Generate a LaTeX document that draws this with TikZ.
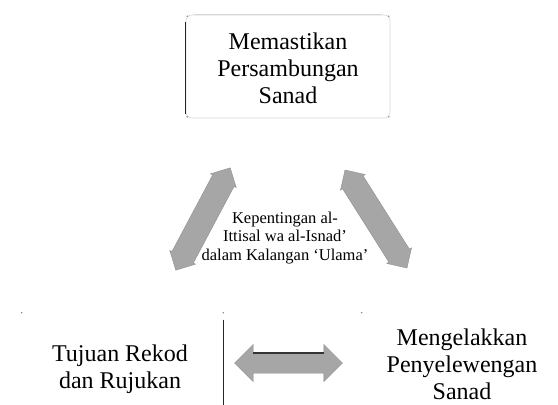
\documentclass[tikz,border=0pt]{standalone}
\usepackage{fontspec}
\setmainfont{Liberation Serif}
\usetikzlibrary{shapes.arrows}
\definecolor{arrowgray}{RGB}{166,166,166}
\definecolor{edgegray}{RGB}{215,215,215}
\begin{document}
\begin{tikzpicture}[x=1pt,y=-1pt,
  boxtext/.style={align=center,font=\fontsize{24}{27}\selectfont,inner sep=0pt},
  faintbox/.style={draw=edgegray,line width=0.6pt,rounded corners=6pt,inner sep=0pt},
  darkedge/.style={draw=black!85,line width=1.3pt},
  bigarrow/.style={double arrow,fill=arrowgray,draw=arrowgray!80!black,line width=0.3pt,inner xsep=0pt}]
\useasboundingbox (0,0) rectangle (558,405);
% boxes
\node[faintbox,minimum width=204pt,minimum height=103pt] (topbox) at (288,66.5) {};
\node[faintbox,draw=none,minimum width=201pt,minimum height=110pt] (leftbox) at (122.5,368) {};
\node[faintbox,draw=none,minimum width=195pt,minimum height=110pt] (rightbox) at (459.5,368) {};
\draw[darkedge] ([yshift=-7pt]topbox.north west) -- ([yshift=4pt]topbox.south west);
\draw[darkedge] ([yshift=-7pt]leftbox.north east) -- (leftbox.south east);
\draw[edgegray,line width=0.6pt] ([xshift=8pt]topbox.north west) -- ([xshift=-8pt]topbox.north east);
% corner dots
\fill[gray] (topbox.north west) ++(1.5,1.5) circle (0.8pt);
\fill[gray] (topbox.north east) ++(-1.5,1.5) circle (0.8pt);
\fill[gray] (topbox.south west) ++(1.5,-1.5) circle (0.8pt);
\fill[gray] (topbox.south east) ++(-1.5,-1.5) circle (0.8pt);
\fill[gray] (leftbox.north west) circle (0.8pt);
\fill[gray] (leftbox.north east) circle (0.8pt);
\fill[gray] (rightbox.north west) circle (0.8pt);
% texts
\node[boxtext] (toptext) at (288,68) {Memastikan\\Persambungan\\Sanad};
\node[boxtext] (lefttext) at (120,369) {Tujuan Rekod\\dan Rujukan};
\node[boxtext] (righttext) at (462,364) {Mengelakkan\\Penyelewengan\\Sanad};
\node[align=center,font=\fontsize{16.5}{18.5}\selectfont,inner sep=0pt] (midtext) at (285,238)
  {Kepentingan al-\\Ittisal wa al-Isnad'\\dalam Kalangan ‘Ulama’};
% arrows
\node[bigarrow,inner ysep=10pt,minimum height=108pt,double arrow head extend=8.5pt] (harrow) at (288.5,363) {};
\draw[black!80,line width=1.3pt] ([xshift=19pt,yshift=10pt]harrow.west) -- ([xshift=-19pt,yshift=10pt]harrow.east);
\node[bigarrow,inner ysep=12pt,minimum height=116pt,double arrow head extend=2.5pt,rotate=62] (larrow) at (203,219) {};
\node[bigarrow,inner ysep=12pt,minimum height=116pt,double arrow head extend=2.5pt,rotate=-57.7] (rarrow) at (376,219) {};
\end{tikzpicture}
\end{document}
